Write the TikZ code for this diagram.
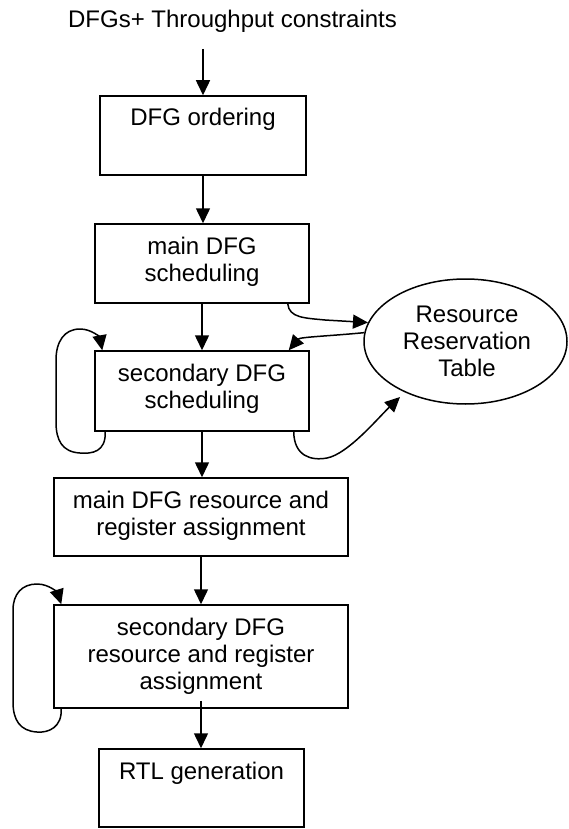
\documentclass[tikz,border=0pt]{standalone}
\usepackage{fontspec}
\setmainfont{Liberation Sans}
\usetikzlibrary{arrows.meta,shapes.geometric}
\begin{document}
\begin{tikzpicture}[x=1pt,y=-1pt,
  lw/.style={line width=1.5pt},
  box/.style={draw, lw, rectangle, inner sep=0pt},
  lbl/.style={font=\fontsize{24}{27}\selectfont, align=center, inner sep=0pt},
  arr/.style={lw, -{Triangle[length=15pt,width=14pt]}}
]
\fill[white] (0,0) rectangle (568,829);
\useasboundingbox (0,0) rectangle (568,829);

% boxes
\node[box, minimum width=206pt, minimum height=79pt] (ord) at (203,135.5) {};
\node[box, minimum width=214pt, minimum height=79pt] (sched) at (202,263.5) {};
\node[box, minimum width=214pt, minimum height=80pt] (sec) at (202,391) {};
\node[box, minimum width=294pt, minimum height=78pt] (mres) at (201,517) {};
\node[box, minimum width=294pt, minimum height=103pt] (sres) at (201,656.5) {};
\node[box, minimum width=205pt, minimum height=78pt] (rtl) at (201.5,788) {};
\node[draw, lw, ellipse, inner sep=0pt, minimum width=203pt, minimum height=125pt] (rrt) at (465.5,341.5) {};

% texts
\node[lbl] (tTitle) at (232.5,21.5) {DFGs+ Throughput constraints};
\node[lbl] (tOrd) at (203,119) {DFG ordering};
\node[lbl] (tSched) at (202,262) {main DFG\\scheduling};
\node[lbl] (tSec) at (202,389) {secondary DFG\\scheduling};
\node[lbl] (tMres) at (201,516) {main DFG resource and\\register assignment};
\node[lbl] (tSres) at (201,656) {secondary DFG\\resource and register\\assignment};
\node[lbl] (tRtl) at (201.5,773) {RTL generation};
\node[lbl] (tRrt) at (467,341) {Resource\\Reservation\\Table};

% vertical arrows
\coordinate (tStart) at (203,49);
\draw[arr] (tStart) -- (ord.north);
\draw[arr] (ord.south) -- (ord.south |- sched.north);
\draw[arr] (sched.south) -- (sec.north);
\draw[arr] (sec.south) -- (sec.south |- mres.north);
\draw[arr] (mres.south) -- (mres.south |- sres.north);
\draw[arr] ([yshift=8pt]sres.south) -- (sres.south |- rtl.north);

% loops
\draw[arr] ([xshift=11pt]sec.south west) .. controls (106,452) and (92,454) .. (80,453)
  .. controls (62,452) and (56,440) .. (56,422) -- (56,360)
  .. controls (56,342) and (64,329) .. (80,329)
  .. controls (92,329) and (100,338) .. ([xshift=8pt]sec.north west);
\draw[arr] ([xshift=8pt]sres.south west) .. controls (62,727) and (49,733) .. (37,732)
  .. controls (20,731) and (13,720) .. (13,702) -- (13,610)
  .. controls (13,594) and (22,584) .. (37,584)
  .. controls (50,584) and (58,594) .. ([xshift=8pt]sres.north west);

% resource reservation table connectors
\draw[arr] ([xshift=-22pt]sched.south east) .. controls (289,318) and (305,318) .. (325,320) -- (rrt.169);
\draw[arr] (rrt.175) .. controls (330,336) and (300,337) .. ([xshift=-21pt]sec.north east);
\coordinate (cEnd) at (400,397);
\draw[arr] ([xshift=-16pt]sec.south east) .. controls (294,456) and (311,461) .. (327,458)
  .. controls (348,454) and (378,418) .. (cEnd);
\end{tikzpicture}
\end{document}
